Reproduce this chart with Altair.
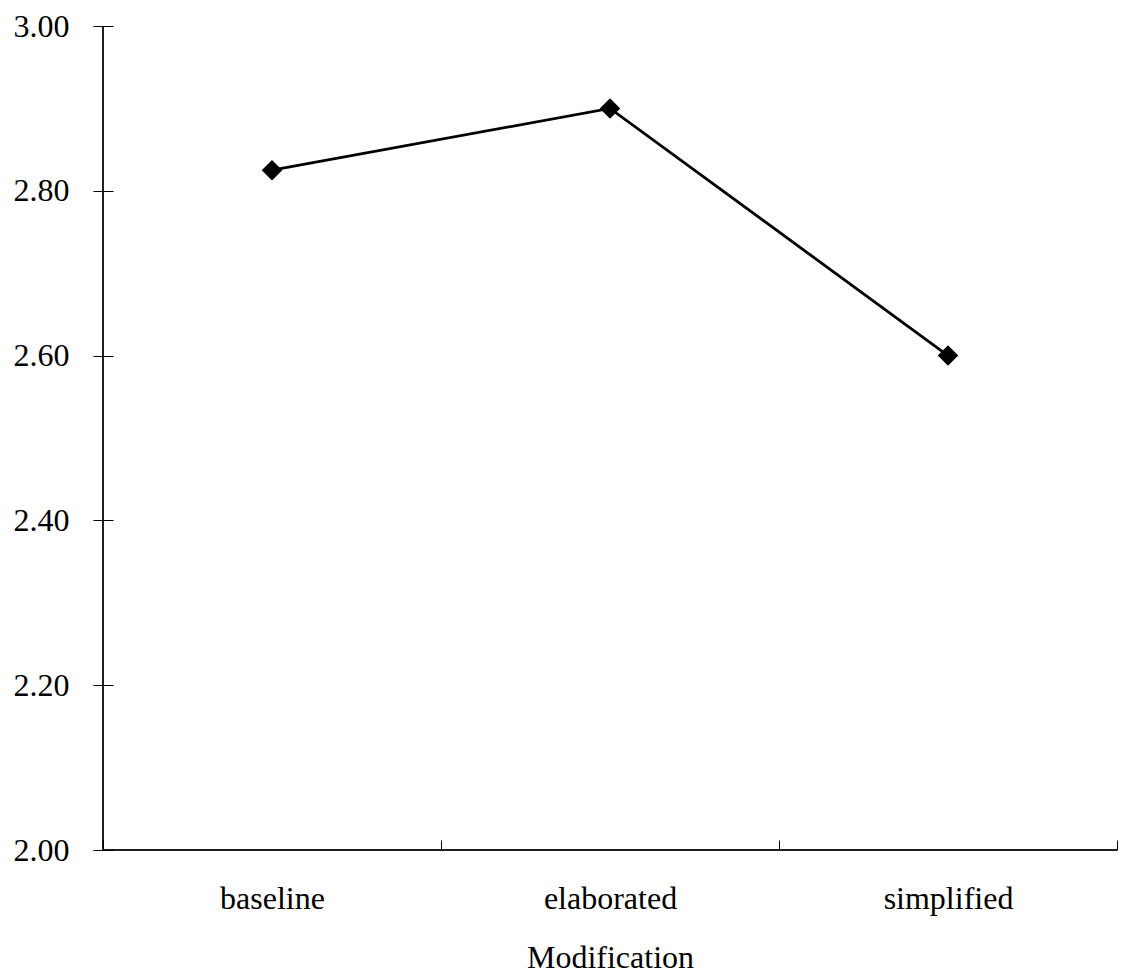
import altair as alt
import pandas as pd

categories = ["baseline", "elaborated", "simplified"]
values = [2.825, 2.90, 2.60]
y_ticks = [2.0, 2.2, 2.4, 2.6, 2.8, 3.0]

df = pd.DataFrame({"Modification": categories, "Mean": values})

W, H = 1014, 824
FONT = "Liberation Serif"

x_enc = alt.X(
    "Modification:N",
    sort=categories,
    bandPosition=0.5,
    scale=alt.Scale(type="band", paddingInner=0, paddingOuter=0),
    axis=alt.Axis(
        title="Modification",
        labelAngle=0,
        tickBand="extent",
        tickSize=10,
        offset=-10,
        domain=False,
        grid=False,
        labelPadding=33,
        titlePadding=28,
        labelFont=FONT, titleFont=FONT,
        labelFontSize=32, titleFontSize=32,
        titleFontWeight="normal",
        labelColor="black", titleColor="black",
        tickColor="black", tickWidth=1,
    ),
)
y_enc = alt.Y(
    "Mean:Q",
    scale=alt.Scale(domain=[2.0, 3.0], nice=False, zero=False),
    axis=alt.Axis(
        title=None,
        values=y_ticks,
        format=".2f",
        tickSize=20,
        offset=-10,
        domain=False,
        grid=False,
        labelPadding=24,
        labelFont=FONT,
        labelFontSize=32,
        labelColor="black",
        tickColor="black", tickWidth=1,
    ),
)

line = alt.Chart(df).mark_line(color="black", strokeWidth=2.8).encode(x=x_enc, y=y_enc)
pts = alt.Chart(df).mark_point(shape="diamond", filled=True, color="black", size=420, opacity=1).encode(
    x=alt.X("Modification:N", sort=categories, bandPosition=0.5),
    y="Mean:Q",
)

ydom = alt.Chart(df).mark_rule(color="black", strokeWidth=1).encode(
    x=alt.value(0), y=alt.value(0), y2=alt.value(H)
)
xdom = alt.Chart(df).mark_rule(color="black", strokeWidth=1).encode(
    y=alt.value(H), x=alt.value(0), x2=alt.value(W)
)

chart = alt.layer(ydom, xdom, line, pts).properties(
    width=W, height=H,
    background="white",
    padding={"top": 2, "left": 5, "right": 0, "bottom": 5},
).configure_view(stroke=None, strokeWidth=0)

chart.save("out.html", embed_options={"renderer": "svg", "actions": False})
